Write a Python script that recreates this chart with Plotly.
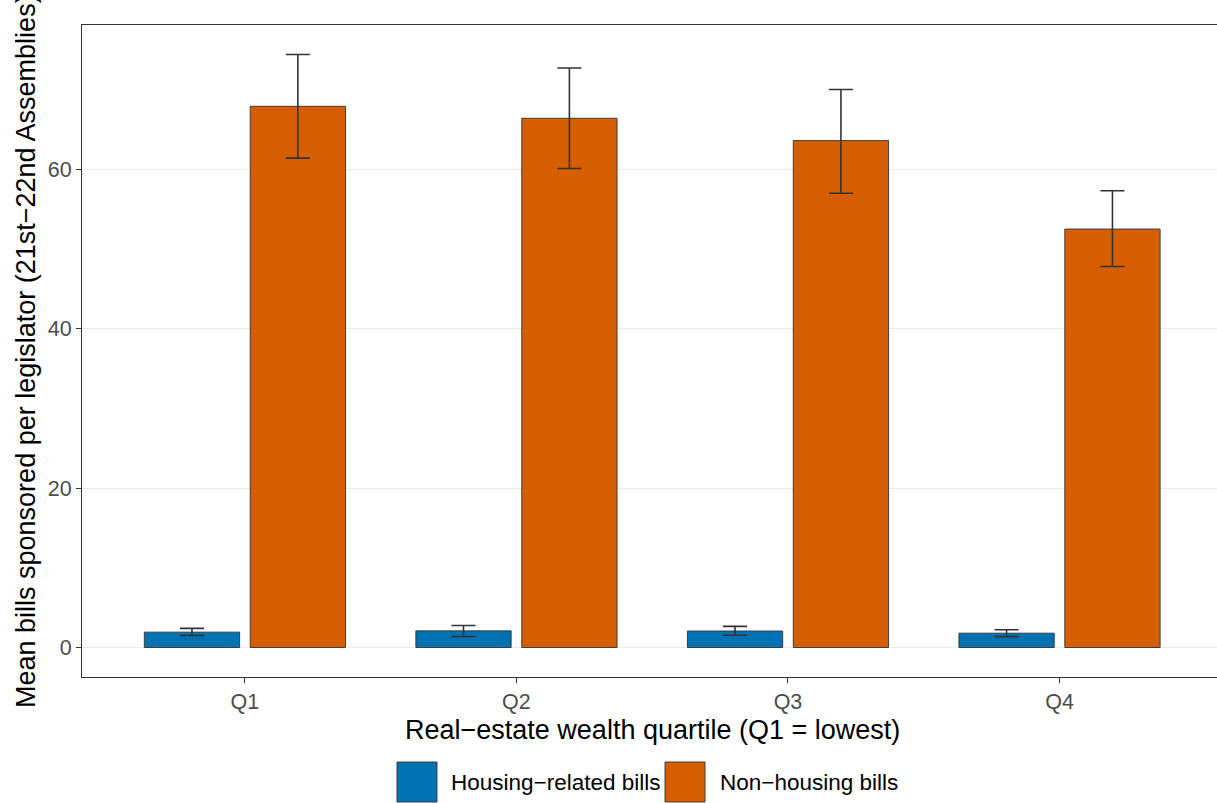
import plotly.graph_objects as go

# Mean bills sponsored per legislator, by real-estate wealth quartile
quartiles = ["Q1", "Q2", "Q3", "Q4"]
housing_mean = [1.93, 2.09, 2.07, 1.80]
housing_lo = [1.50, 1.38, 1.53, 1.36]
housing_hi = [2.40, 2.76, 2.65, 2.23]
nonhousing_mean = [67.9, 66.4, 63.6, 52.5]
nonhousing_lo = [61.4, 60.1, 57.0, 47.8]
nonhousing_hi = [74.4, 72.7, 70.0, 57.3]

series_names = ["Housing\u2212related bills", "Non\u2212housing bills"]
series_colors = ["#0072B2", "#D55E00"]

FONT = "Liberation Sans, Arial, Helvetica, sans-serif"
INK = "#333333"
TICK_TXT = "#4D4D4D"
TITLE_SIZE = 27
SMALL_SIZE = 21.5
LEGEND_SIZE = 22.5

fig = go.Figure()


def add_series(name, color, mean, lo, hi):
    fig.add_trace(go.Bar(
        x=quartiles,
        y=mean,
        name=name,
        marker=dict(color=color, line=dict(color=INK, width=0.9)),
        error_y=dict(
            type="data",
            symmetric=False,
            array=[h - m for h, m in zip(hi, mean)],
            arrayminus=[m - l for m, l in zip(mean, lo)],
            color=INK,
            thickness=1.6,
            width=12,
        ),
        showlegend=False,
    ))


add_series(series_names[0], series_colors[0], housing_mean, housing_lo, housing_hi)
add_series(series_names[1], series_colors[1], nonhousing_mean, nonhousing_lo, nonhousing_hi)

W, H = 1217, 803
ML, MR, MT, MB = 82, 0, 25, 126

fig.update_layout(
    width=W,
    height=H,
    margin=dict(l=ML, r=MR, t=MT, b=MB, pad=0),
    paper_bgcolor="white",
    plot_bgcolor="white",
    barmode="group",
    bargap=0.22,
    bargroupgap=0.1,
    font=dict(family=FONT, color=TICK_TXT),
    showlegend=False,
)

fig.update_xaxes(
    type="category",
    range=[-0.6, 3.58],
    showgrid=False,
    showline=True,
    linecolor=INK,
    linewidth=1.2,
    mirror=True,
    ticks="outside",
    ticklen=5,
    tickwidth=1.1,
    tickcolor=INK,
    tickfont=dict(family=FONT, size=SMALL_SIZE, color=TICK_TXT),
    zeroline=False,
)

fig.update_yaxes(
    range=[-3.7, 78.1],
    tickvals=[0, 20, 40, 60],
    showgrid=True,
    gridcolor="#EBEBEB",
    gridwidth=1.1,
    showline=True,
    linecolor=INK,
    linewidth=1.2,
    mirror=False,
    ticks="outside",
    ticklen=5,
    tickwidth=1.1,
    tickcolor=INK,
    tickfont=dict(family=FONT, size=SMALL_SIZE, color=TICK_TXT),
    zeroline=False,
)

# Axis titles
fig.add_annotation(
    text="Real\u2212estate wealth quartile (Q1 = lowest)",
    xref="x", x=1.5, yref="paper", y=0, yshift=-53,
    xanchor="center", yanchor="middle", showarrow=False,
    font=dict(family=FONT, size=TITLE_SIZE, color="black"),
)
fig.add_annotation(
    text="Mean bills sponsored per legislator (21st\u221222nd Assemblies)",
    xref="paper", x=0, xshift=-56, yref="paper", y=0.5,
    xanchor="center", yanchor="middle", textangle=-90, showarrow=False,
    font=dict(family=FONT, size=TITLE_SIZE, color="black"),
)

# Legend drawn below the panel as keyed boxes with labels
plot_w = W - ML - MR
plot_h = H - MT - MB


def px_to_paper_x(px):
    return (px - ML) / plot_w


def px_to_paper_y(py):
    return (H - MB - py) / plot_h


legend_items = [
    (series_names[0], series_colors[0], 397, 449),
    (series_names[1], series_colors[1], 665, 718),
]
for label, color, key_x, text_x in legend_items:
    fig.add_shape(
        type="rect", xref="paper", yref="paper",
        x0=px_to_paper_x(key_x), x1=px_to_paper_x(key_x + 40),
        y0=px_to_paper_y(802), y1=px_to_paper_y(762),
        fillcolor=color, line=dict(color=INK, width=0.9),
    )
    fig.add_annotation(
        text=label, xref="paper", yref="paper",
        x=px_to_paper_x(text_x), y=px_to_paper_y(782),
        xanchor="left", yanchor="middle", showarrow=False,
        font=dict(family=FONT, size=LEGEND_SIZE, color="black"),
    )

fig.write_html("out.html")
